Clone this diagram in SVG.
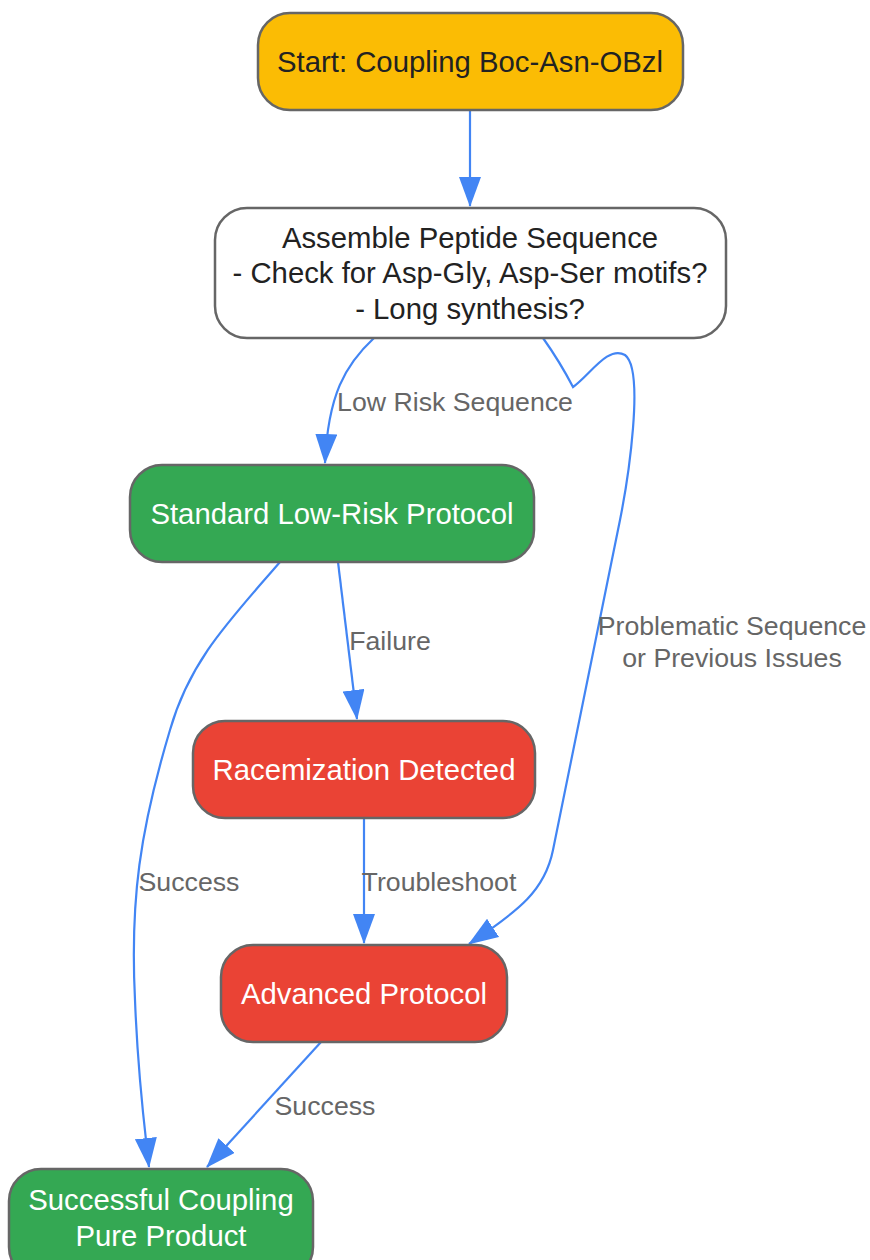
<svg xmlns="http://www.w3.org/2000/svg" width="870" height="1260" viewBox="0 0 870 1260">
<defs>
<style>
.node rect{stroke:#666666;stroke-width:2.5}
.nt{font-family:"Liberation Sans",Arial,sans-serif;font-size:29.3px;text-anchor:middle}
.dark{fill:#222222}
.light{fill:#ffffff}
.edge{fill:none;stroke:#4285F4;stroke-width:2.2;marker-end:url(#arr)}
.lbl{font-family:"Liberation Sans",Arial,sans-serif;font-size:26.7px;fill:#666666;text-anchor:middle}
</style>
<marker id="arr" markerUnits="userSpaceOnUse" markerWidth="30" markerHeight="22" refX="29" refY="11" orient="auto">
<path d="M0,0 L30,11 L0,22 z" fill="#4285F4"/>
</marker>
</defs>
<rect width="870" height="1260" fill="#ffffff"/>
<g id="connectors">
<path class="edge" d="M470,110 L470,206"/>
<path class="edge" d="M374,338 C345,365 328,395 325,463"/>
<path class="edge" d="M543,338 Q560,362 573,387 C590,375 608,345 625,355 C645,370 628,480 620,520 L553,850 C545,890 520,910 469,944"/>
<path class="edge" d="M280,562 C230,620 190,660 170,730 C140,830 130,900 135,1000 C138,1080 145,1130 149,1167"/>
<path class="edge" d="M338,562 L357,719"/>
<path class="edge" d="M364,818 L364,943"/>
<path class="edge" d="M321,1042 L207,1167"/>
<text class="lbl" x="455" y="411">Low Risk Sequence</text>
<text class="lbl" x="390" y="650">Failure</text>
<text class="lbl" x="732" y="635">Problematic Sequence</text>
<text class="lbl" x="732" y="667">or Previous Issues</text>
<text class="lbl" x="189" y="891">Success</text>
<text class="lbl" x="439" y="891">Troubleshoot</text>
<text class="lbl" x="325" y="1115">Success</text>
</g>
<g id="start" class="node">
<rect x="258" y="13" width="425" height="97" rx="32" fill="#FBBC04"/>
<text class="nt dark" x="470" y="72">Start: Coupling Boc-Asn-OBzl</text>
</g>
<g id="assemble" class="node">
<rect x="215" y="208" width="511" height="130" rx="32" fill="#ffffff"/>
<text class="nt dark" x="470" y="248">Assemble Peptide Sequence</text>
<text class="nt dark" x="470" y="283">- Check for Asp-Gly, Asp-Ser motifs?</text>
<text class="nt dark" x="470" y="319">- Long synthesis?</text>
</g>
<g id="standard" class="node">
<rect x="130" y="465" width="404" height="97" rx="32" fill="#34A853"/>
<text class="nt light" x="332" y="524">Standard Low-Risk Protocol</text>
</g>
<g id="racemization" class="node">
<rect x="193" y="721" width="342" height="97" rx="32" fill="#EA4335"/>
<text class="nt light" x="364" y="780">Racemization Detected</text>
</g>
<g id="advanced" class="node">
<rect x="221" y="945" width="286" height="97" rx="32" fill="#EA4335"/>
<text class="nt light" x="364" y="1004">Advanced Protocol</text>
</g>
<g id="success" class="node">
<rect x="9" y="1169" width="304" height="110" rx="32" fill="#34A853"/>
<text class="nt light" x="161" y="1210">Successful Coupling</text>
<text class="nt light" x="161" y="1246">Pure Product</text>
</g>
</svg>
